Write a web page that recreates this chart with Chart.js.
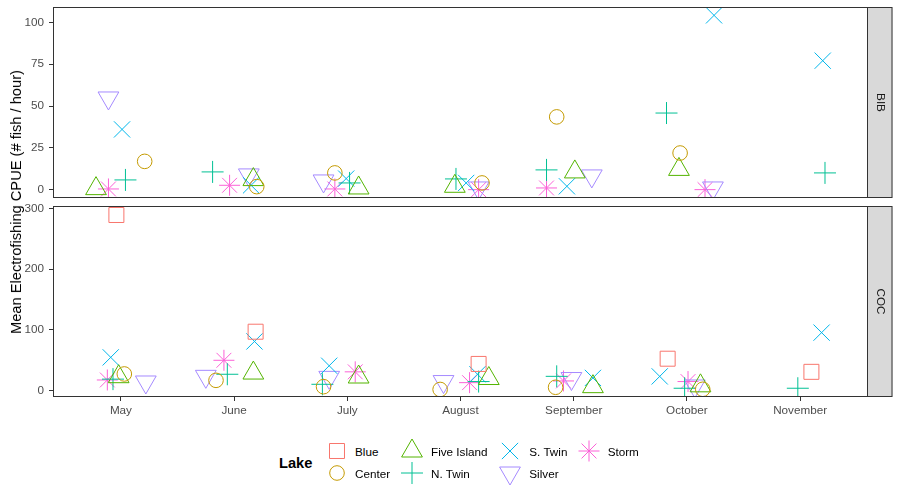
<!DOCTYPE html>
<html>
<head>
<meta charset="utf-8">
<script src="https://cdn.jsdelivr.net/npm/chart.js@4.4.1/dist/chart.umd.min.js"></script>
<style>
  body { margin: 0; background: #fff; font-family: "Liberation Sans", Arial, sans-serif; }
  #wrap { position: relative; width: 900px; height: 500px; }
  #wrap canvas.panel { position: absolute; left: 0; }
  .ytitle { position: absolute; left: 16px; top: 202px; transform: translate(-50%, -50%) rotate(-90deg);
            white-space: nowrap; font-size: 14.67px; color: #000; }
  .lgTitle { position: absolute; left: 279px; top: 463px; transform: translateY(-50%);
             font-size: 14.67px; font-weight: bold; color: #000; }
  .lgText { position: absolute; transform: translateY(-50%); font-size: 11.7px; color: #000; white-space: nowrap; }
  .lgKey { position: absolute; }
</style>
</head>
<body>
<div id="wrap">
  <canvas id="bib" class="panel" width="900" height="200" style="top:0"></canvas>
  <canvas id="coc" class="panel" width="900" height="220" style="top:200px"></canvas>
  <div class="ytitle">Mean Electrofishing CPUE (# fish / hour)</div>
  <div class="lgTitle">Lake</div>
  <div id="legend"></div>
</div>
<script>
const months = ['May', 'June', 'July', 'August', 'September', 'October', 'November'];
const lakes = ['Blue', 'Center', 'Five Island', 'N. Twin', 'S. Twin', 'Silver', 'Storm'];
const lakeColors = ['#F8766D', '#C49A00', '#53B400', '#00C094', '#00B6EB', '#A58AFF', '#FB61D7'];
const lakeShapes = ['rect', 'circle', 'triangle', 'cross', 'crossRot', 'triangle', 'star'];
const lakeRotation = [0, 0, 0, 0, 0, 180, 0];
const lakeRadius = [10.6, 7.3, 12, 11, 11.5, 12, 10.5];

// BIB panel: one row per lake (order of `lakes`), one value per month, null = no sample
const bibValues = [
  [null, null, null, null, null, null, null],
  [16.9, 1.8, 10, 4, 43.5, 21.9, null],
  [0.6, 6, 1, 2, 10.6, 12.1, null],
  [5.8, 10.6, 4, 6.4, 11.8, 45.8, 10],
  [36, 2.6, 6.6, 4, 2, 104.2, 77.1],
  [54.8, 8.8, 5.2, 1, 8.2, 1, null],
  [0.4, 2.6, 0.4, 0, 1, 0, null]
];
// horizontal jitter of each point (in month units)
const bibJitter = [
  [0, 0, 0, 0, 0, 0, 0],
  [0.21, 0.20, -0.11, 0.19, -0.15, -0.06, 0],
  [-0.22, 0.17, 0.10, -0.05, 0.01, -0.07, 0],
  [0.04, -0.19, 0.02, -0.04, -0.24, -0.18, 0.22],
  [0.01, 0.15, -0.01, 0.05, -0.06, 0.24, 0.20],
  [-0.11, 0.13, -0.21, 0.16, 0.16, 0.23, 0],
  [-0.11, -0.04, -0.11, 0.16, -0.24, 0.16, 0]
];

// COC panel
const cocValues = [
  [289, 97, null, 44, null, 52.6, 31],
  [27.5, 17, 6.6, 2, 5.6, 2.3, null],
  [23, 29, 22.5, 20, 6.6, 8, null],
  [19, 27, 10.5, 15, 23.6, 4, 4],
  [54.8, 81, 41, 27, 21, 23.5, 95.5],
  [14.3, 23.6, 21.9, 15, 20, 7.7, null],
  [17.6, 50, 31, 13.2, 16, 15, null]
];
const cocJitter = [
  [-0.04, 0.19, 0, 0.16, 0, -0.17, 0.10],
  [0.03, -0.16, -0.21, -0.18, -0.16, 0.14, 0],
  [-0.02, 0.17, 0.10, 0.25, 0.17, 0.12, 0],
  [-0.07, -0.06, -0.22, 0.16, -0.15, -0.02, -0.02],
  [-0.09, 0.18, -0.16, 0.15, 0.17, -0.24, 0.19],
  [0.22, -0.25, -0.16, -0.15, -0.02, 0.07, 0],
  [-0.12, -0.09, 0.07, 0.08, -0.09, 0.01, 0]
];

const bibTicks = [0, 25, 50, 75, 100];
const cocTicks = [0, 100, 200, 300];

const tickFont = { family: '"Liberation Sans", Arial, sans-serif', size: 11.7 };

function makeDatasets(values, jitter) {
  return lakes.map((lake, i) => {
    const pts = [];
    values[i].forEach((v, m) => {
      if (v !== null) pts.push({ x: m + 1 + jitter[i][m], y: v });
    });
    return {
      label: lake,
      data: pts,
      pointStyle: lakeShapes[i],
      rotation: lakeRotation[i],
      radius: lakeRadius[i],
      borderColor: lakeColors[i],
      backgroundColor: 'rgba(0,0,0,0)',
      borderWidth: 1
    };
  });
}

// panel border + grey facet strip on the right
const facetFrame = {
  id: 'facetFrame',
  afterDraw(chart, args, opts) {
    const { ctx, chartArea: a } = chart;
    ctx.save();
    ctx.strokeStyle = '#333333';
    ctx.lineWidth = 1;
    ctx.strokeRect(a.left + 0.5, a.top + 0.5, a.right - a.left - 1, a.bottom - a.top - 1);
    const sw = 24.5;
    ctx.fillStyle = '#D9D9D9';
    ctx.fillRect(a.right, a.top, sw, a.bottom - a.top);
    ctx.strokeRect(a.right - 0.5, a.top + 0.5, sw, a.bottom - a.top - 1);
    ctx.translate(a.right + sw / 2, (a.top + a.bottom) / 2);
    ctx.rotate(Math.PI / 2);
    ctx.fillStyle = '#1A1A1A';
    ctx.font = '11.7px "Liberation Sans", Arial, sans-serif';
    ctx.textAlign = 'center';
    ctx.textBaseline = 'middle';
    ctx.fillText(opts.label, 0, 0);
    ctx.restore();
  }
};

function makeConfig(values, jitter, label, yMin, yMax, yTicks, showX, padding) {
  return {
    type: 'scatter',
    data: { datasets: makeDatasets(values, jitter) },
    plugins: [facetFrame],
    options: {
      responsive: false,
      animation: false,
      events: [],
      layout: { padding: padding, autoPadding: false },
      plugins: {
        legend: { display: false },
        tooltip: { enabled: false },
        facetFrame: { label: label }
      },
      scales: {
        x: {
          type: 'linear',
          display: showX,
          min: 0.4,
          max: 7.6,
          afterBuildTicks: (s) => { s.ticks = months.map((m, i) => ({ value: i + 1 })); },
          afterFit: (s) => {
            s.height = showX ? 23 : 0;
            s.paddingLeft = 0; s.paddingRight = 0;
          },
          grid: { drawOnChartArea: false, drawTicks: true, tickLength: 4, color: '#333333' },
          border: { display: false },
          ticks: {
            color: '#4D4D4D', font: tickFont, padding: 3, maxRotation: 0, autoSkip: false,
            callback: (v) => months[v - 1]
          }
        },
        y: {
          min: yMin,
          max: yMax,
          afterBuildTicks: (s) => { s.ticks = yTicks.map(v => ({ value: v })); },
          afterFit: (s) => {
            s.width = 53;
            s.paddingTop = 0; s.paddingBottom = 0;
          },
          grid: { drawOnChartArea: false, drawTicks: true, tickLength: 4, color: '#333333' },
          border: { display: false },
          ticks: { color: '#4D4D4D', font: tickFont, padding: 5 }
        }
      }
    }
  };
}

new Chart(document.getElementById('bib'),
  makeConfig(bibValues, bibJitter, 'BIB', -5.0, 109.2, bibTicks, false, { top: 7, right: 32, bottom: 2, left: 0 }));
new Chart(document.getElementById('coc'),
  makeConfig(cocValues, cocJitter, 'COC', -10.4, 303.8, cocTicks, true, { top: 6, right: 32, bottom: 0, left: 0 }));

// legend: ggplot style, filled column by column, two rows
const legendCols = [[336.7, 355], [412.3, 431], [510, 529.3], [589, 607.7]];
const legendRows = [450.7, 473.3];
const legend = document.getElementById('legend');
lakes.forEach((lake, i) => {
  const col = legendCols[Math.floor(i / 2)];
  const y = legendRows[i % 2];
  const c = document.createElement('canvas');
  c.width = 30; c.height = 30;
  c.className = 'lgKey';
  c.style.left = (col[0] - 15) + 'px';
  c.style.top = (y - 15) + 'px';
  const ctx = c.getContext('2d');
  ctx.strokeStyle = lakeColors[i];
  ctx.fillStyle = 'rgba(0,0,0,0)';
  ctx.lineWidth = 1;
  Chart.helpers.drawPoint(ctx, {
    pointStyle: lakeShapes[i], rotation: lakeRotation[i], radius: lakeRadius[i], borderWidth: 1
  }, 15, 15);
  legend.appendChild(c);
  const t = document.createElement('div');
  t.className = 'lgText';
  t.style.left = col[1] + 'px';
  t.style.top = y + 'px';
  t.textContent = lake;
  legend.appendChild(t);
});
</script>
</body>
</html>
